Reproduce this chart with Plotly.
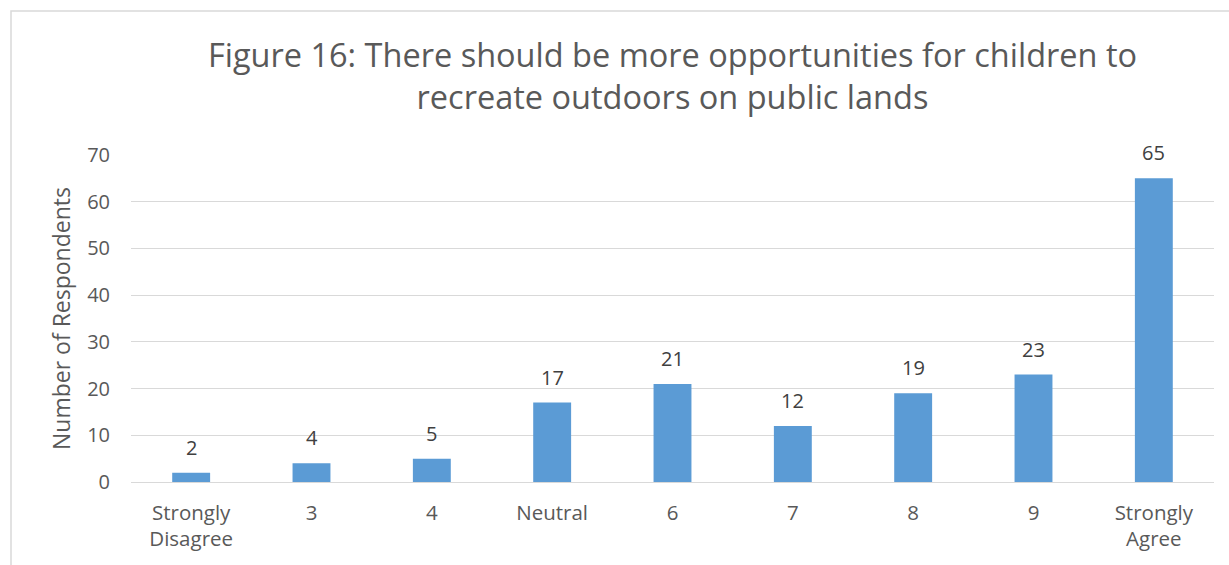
import plotly.graph_objects as go

categories = ["Strongly<br>Disagree", "3", "4", "Neutral", "6", "7", "8", "9", "Strongly<br>Agree"]
respondents = [2, 4, 5, 17, 21, 12, 19, 23, 65]
y_ticks = [0, 10, 20, 30, 40, 50, 60, 70]

title_text = ("Figure 16: There should be more opportunities for children to<br>"
              "recreate outdoors on public lands")

W, H = 1229, 565
L, R, T, B = 131, 15, 155, 83
pw, ph = W - L - R, H - T - B

fig = go.Figure(go.Bar(
    x=categories,
    y=respondents,
    marker=dict(color="#5B9BD5", line=dict(width=0)),
))

# value labels above each bar (x given as category index)
for i, val in enumerate(respondents):
    fig.add_annotation(x=i, y=val, text=str(val), showarrow=False,
                       yanchor="bottom", yshift=10,
                       font=dict(size=20, color="#404040"))

fig.update_layout(
    width=W, height=H,
    margin=dict(l=L, r=R, t=T, b=B),
    paper_bgcolor="white", plot_bgcolor="white",
    font=dict(family="Open Sans", color="#595959"),
    bargap=0.685,
    showlegend=False,
    title=dict(text=title_text, x=0.5, xanchor="center", xref="paper",
               y=(H - 67) / H, yanchor="top",
               font=dict(size=32.5, color="#595959")),
    xaxis=dict(type="category", showgrid=False, showline=True,
               linecolor="#d9d9d9", linewidth=1,
               tickfont=dict(size=20.5, color="#595959"), ticks="",
               ticklabelstandoff=12),
    yaxis=dict(range=[0, 70], tickvals=y_ticks, showgrid=True,
               gridcolor="#d9d9d9", gridwidth=1, zeroline=False, showline=False,
               tickfont=dict(size=20, color="#595959"), ticks="",
               ticklabelstandoff=20,
               title=dict(text="Number of Respondents", standoff=10,
                          font=dict(size=23, color="#595959"))),
)

# light chart-area frame
fig.add_shape(type="rect", xref="paper", yref="paper",
              x0=(11 - L) / pw, x1=(W + 20 - L) / pw,
              y0=-(H + 20 - T - ph) / ph, y1=1 + (T - 11) / ph,
              line=dict(color="#d9d9d9", width=1.5), fillcolor="rgba(0,0,0,0)",
              layer="below")

fig.write_html("out.html")
